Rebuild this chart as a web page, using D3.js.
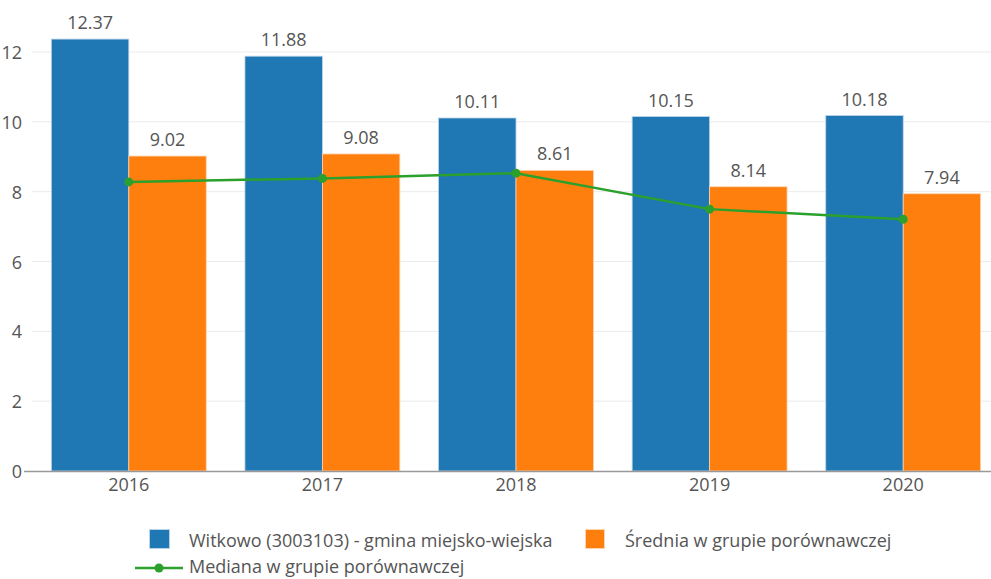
<!DOCTYPE html>
<html>
<head>
<meta charset="utf-8">
<script src="https://cdn.jsdelivr.net/npm/d3@7"></script>
<style>
  html, body { margin: 0; padding: 0; background: #fff; overflow: hidden; }
  svg { display: block; font-family: "Open Sans", sans-serif; }
</style>
</head>
<body>
<svg width="991" height="579"></svg>
<script>
const years = ["2016", "2017", "2018", "2019", "2020"];
const gminaValues = [12.37, 11.88, 10.11, 10.15, 10.18];
const sredniaValues = [9.02, 9.08, 8.61, 8.14, 7.94];
const medianaValues = [8.28, 8.38, 8.53, 7.50, 7.21];
const yTicks = [0, 2, 4, 6, 8, 10, 12];
const seriesNames = ["Witkowo (3003103) - gmina miejsko-wiejska", "Średnia w grupie porównawczej", "Mediana w grupie porównawczej"];

const svg = d3.select("svg");
const blue = "#1f77b4", orange = "#ff7f0e", green = "#2ca02c";
const fs = "18px";

// obszar wykresu
const left = 32, right = 1000, bottom = 471;
const y = d3.scaleLinear().domain([0, 12]).range([bottom, 52]);

const x = d3.scaleBand().domain(years).range([left, right]).paddingInner(0.2).paddingOuter(0.1);
const xs = d3.scaleBand().domain(["g", "s"]).range([0, x.bandwidth()]);

// siatka
svg.append("g").selectAll("line")
  .data(yTicks.filter(d => d > 0))
  .join("line")
  .attr("x1", left).attr("x2", 991)
  .attr("y1", d => y(d)).attr("y2", d => y(d))
  .attr("stroke", "#ebebeb").attr("stroke-width", 1);

// etykiety osi Y
svg.append("g").selectAll("text")
  .data(yTicks)
  .join("text")
  .attr("x", 22).attr("y", d => y(d))
  .attr("text-anchor", "end")
  .attr("dominant-baseline", "central")
  .attr("fill", "#555")
  .style("font-size", fs)
  .text(d => d);

// słupki
const groups = svg.append("g").selectAll("g")
  .data(years)
  .join("g")
  .attr("transform", d => `translate(${x(d)},0)`);

groups.append("rect")
  .attr("x", xs("g")).attr("width", xs.bandwidth())
  .attr("y", (d, i) => y(gminaValues[i]))
  .attr("height", (d, i) => bottom - y(gminaValues[i]))
  .attr("fill", blue)
  .attr("stroke", "#b9d3ea").attr("stroke-width", 0.8);

groups.append("rect")
  .attr("x", xs("s")).attr("width", xs.bandwidth())
  .attr("y", (d, i) => y(sredniaValues[i]))
  .attr("height", (d, i) => bottom - y(sredniaValues[i]))
  .attr("fill", orange)
  .attr("stroke", "#ffd3ad").attr("stroke-width", 0.8);

// wartości nad słupkami
groups.append("text")
  .attr("x", xs("g") + xs.bandwidth() / 2)
  .attr("y", (d, i) => y(gminaValues[i]) - 10)
  .attr("text-anchor", "middle")
  .attr("fill", "#555")
  .style("font-size", fs)
  .text((d, i) => gminaValues[i].toFixed(2));

groups.append("text")
  .attr("x", xs("s") + xs.bandwidth() / 2)
  .attr("y", (d, i) => y(sredniaValues[i]) - 10)
  .attr("text-anchor", "middle")
  .attr("fill", "#555")
  .style("font-size", fs)
  .text((d, i) => sredniaValues[i].toFixed(2));

// oś X
svg.append("line")
  .attr("x1", left - 8).attr("x2", 991)
  .attr("y1", bottom + 0.5).attr("y2", bottom + 0.5)
  .attr("stroke", "#999").attr("stroke-width", 1.5);

svg.append("g").selectAll("text")
  .data(years)
  .join("text")
  .attr("x", d => x(d) + x.bandwidth() / 2)
  .attr("y", bottom + 20)
  .attr("text-anchor", "middle")
  .attr("fill", "#555")
  .style("font-size", fs)
  .text(d => d);

// linia mediany
const cx = d => x(d) + x.bandwidth() / 2;
const line = d3.line().x((d, i) => cx(years[i])).y(d => y(d));
svg.append("path")
  .datum(medianaValues)
  .attr("d", line)
  .attr("fill", "none")
  .attr("stroke", green)
  .attr("stroke-width", 2.5);

svg.append("g").selectAll("circle")
  .data(medianaValues)
  .join("circle")
  .attr("cx", (d, i) => cx(years[i]))
  .attr("cy", d => y(d))
  .attr("r", 4.5)
  .attr("fill", green);

// legenda
const legend = svg.append("g").style("font-size", fs).attr("fill", "#555");
legend.append("rect").attr("x", 149.5).attr("y", 529.5).attr("width", 20).attr("height", 19)
  .attr("fill", blue).attr("stroke", "#b9d3ea");
legend.append("text").attr("x", 189).attr("y", 540).attr("dominant-baseline", "central").text(seriesNames[0]);

legend.append("rect").attr("x", 585.5).attr("y", 529.5).attr("width", 19).attr("height", 19)
  .attr("fill", orange).attr("stroke", "#ffd3ad");
legend.append("text").attr("x", 625).attr("y", 540).attr("dominant-baseline", "central").text(seriesNames[1]);

legend.append("line").attr("x1", 135).attr("x2", 183).attr("y1", 568).attr("y2", 568)
  .attr("stroke", green).attr("stroke-width", 2.5);
legend.append("circle").attr("cx", 159).attr("cy", 568).attr("r", 4.5).attr("fill", green);
legend.append("text").attr("x", 189).attr("y", 566).attr("dominant-baseline", "central").text(seriesNames[2]);
</script>
</body>
</html>
